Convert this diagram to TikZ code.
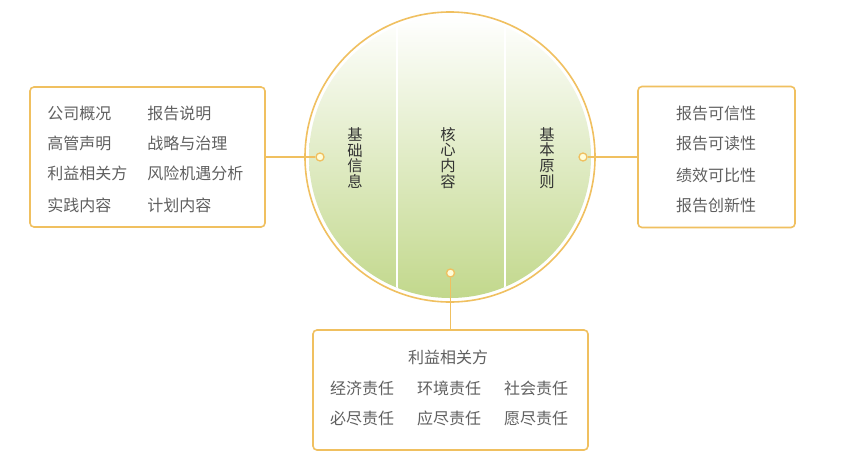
\documentclass[tikz,border=0pt]{standalone}
\usepackage{fontspec}
\setmainfont{Noto Sans CJK SC}
\usetikzlibrary{positioning}
\definecolor{lineorange}{RGB}{240,192,96}
\definecolor{txtgray}{RGB}{96,96,96}
\definecolor{leafgreen}{RGB}{194,216,140}
\def\px{0.75pt}
\tikzset{box/.style = {draw=lineorange, line width=1.2pt, rounded corners=3pt, fill=white},
         item/.style = {text=txtgray, font=\fontsize{12}{14}\selectfont, inner sep=0pt},
         title/.style = {text=black!80, font=\fontsize{11.5}{11.8}\selectfont, align=center, inner sep=0pt},
         dot/.style = {circle, draw=lineorange, fill=yellow!15, line width=1pt, inner sep=0pt, minimum size=6pt},
         link/.style = {draw=lineorange, line width=1.2pt}}

\begin{document}
\begin{tikzpicture}[x=\px, y=-\px]
    \useasboundingbox[fill=white] (0,0) rectangle (841,468);

    % circle in the middle
    \shade[top color=white, middle color=leafgreen!55!white, bottom color=leafgreen] (450,157) circle (141);
    \begin{scope}
        \clip (450,157) circle (141);
        \draw[white, line width=1.6pt] (397,0) -- (397,320);
        \draw[white, line width=1.6pt] (505,0) -- (505,320);
    \end{scope}
    \node [circle, draw=lineorange, line width=1.2pt, minimum size=290*\px] (core) at (450,157) {};

    \node [title] (basic)  at (355,158) {基\\础\\信\\息};
    \node [title] (center) at (448,158) {核\\心\\内\\容};
    \node [title] (rule)   at (547,158) {基\\本\\原\\则};

    % boxes
    \node [box, minimum width=235*\px, minimum height=140*\px] (base) at (147.5,157) {};
    \node [box, minimum width=157*\px, minimum height=141*\px] (principle) at (716.5,157) {};
    \node [box, minimum width=275*\px, minimum height=120*\px] (duty) at (450.5,390) {};

    \node [dot] (dotL) at (320,157) {};
    \node [dot] (dotR) at (583,157) {};
    \node [dot] (dotB) at (450.5,273) {};

    \draw [link] (base.east) -- (dotL);
    \draw [link] (dotR) -- (principle.west);
    \draw [link] (dotB) -- (duty.north);

    % left box
    \node [item, anchor=west] (b1) at (47,113) {公司概况};
    \node [item, anchor=west] (b2) at (47,143) {高管声明};
    \node [item, anchor=west] (b3) at (47,173) {利益相关方};
    \node [item, anchor=west] (b4) at (47,205) {实践内容};
    \node [item, anchor=west] (b5) at (147,113) {报告说明};
    \node [item, anchor=west] (b6) at (147,143) {战略与治理};
    \node [item, anchor=west] (b7) at (147,173) {风险机遇分析};
    \node [item, anchor=west] (b8) at (147,205) {计划内容};

    % right box
    \node [item] (p1) at (716,113) {报告可信性};
    \node [item] (p2) at (716,143) {报告可读性};
    \node [item] (p3) at (716,175) {绩效可比性};
    \node [item] (p4) at (716,205) {报告创新性};

    % bottom box
    \node [item] (d0) at (448,357) {利益相关方};
    \node [item] (d1) at (362,388) {经济责任};
    \node [item] (d2) at (449,388) {环境责任};
    \node [item] (d3) at (536,388) {社会责任};
    \node [item] (d4) at (362,418) {必尽责任};
    \node [item] (d5) at (449,418) {应尽责任};
    \node [item] (d6) at (536,418) {愿尽责任};
\end{tikzpicture}
\end{document}
